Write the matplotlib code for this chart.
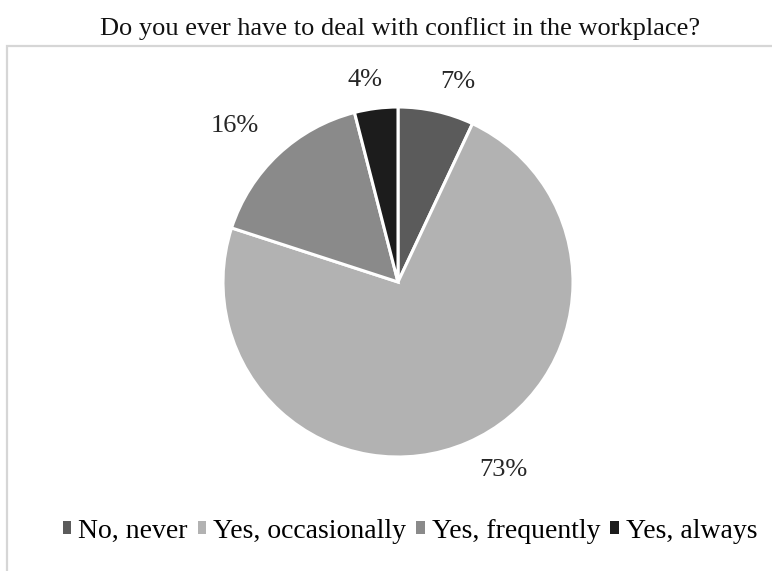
import matplotlib.pyplot as plt
from matplotlib.patches import Rectangle
import numpy as np

# survey answers and their shares (percent)
categories = ['No, never', 'Yes, occasionally', 'Yes, frequently', 'Yes, always']
shares = [7, 73, 16, 4]
colors = ['#5b5b5b', '#b2b2b2', '#8a8a8a', '#1c1c1c']
# where each percentage label sits: distance in pie radii, angle shift in degrees
label_dist = [1.19, 1.23, 1.29, 1.17]
label_shift = [-4, 6, 3, 2]

plt.rcParams['font.family'] = ['Liberation Serif', 'DejaVu Serif']

fig = plt.figure(figsize=(7.72, 5.71), dpi=100)

# light gray frame, only its top and left edges are inside the picture
fig.add_artist(Rectangle((7 / 772, -0.1), 1.2, 1 - 46 / 571 + 0.1,
                         transform=fig.transFigure, fill=False,
                         edgecolor='#d6d6d6', linewidth=1.6))

fig.text(400 / 772, 1 - 29 / 571, 'Do you ever have to deal with conflict in the workplace?',
         ha='center', va='center', fontsize=19, color='#111111')

ax = fig.add_axes([223 / 772, 1 - 457 / 571, 350 / 772, 350 / 571])
wedges, _ = ax.pie(shares, colors=colors, startangle=90, counterclock=False,
                   radius=1, wedgeprops=dict(edgecolor='white', linewidth=2.2))
ax.set_xlim(-1, 1)
ax.set_ylim(-1, 1)
ax.set_aspect('auto')
ax.axis('off')

# percentage labels just outside each slice
for w, s, d, sh in zip(wedges, shares, label_dist, label_shift):
    ang = np.deg2rad((w.theta1 + w.theta2) / 2 + sh)
    ax.text(d * np.cos(ang), d * np.sin(ang), f'{s}%', ha='center', va='center',
            fontsize=19, color='#262626')

handles = [Rectangle((0, 0), 1, 1, facecolor=c, edgecolor='none') for c in colors]
fig.legend(handles, categories, loc='center', ncol=4,
           bbox_to_anchor=(410 / 772, 1 - 531 / 571), frameon=False,
           fontsize=20, handlelength=0.32, handleheight=0.32,
           handletextpad=0.25, columnspacing=0.35, borderpad=0)

plt.savefig('out.png', dpi=100)
